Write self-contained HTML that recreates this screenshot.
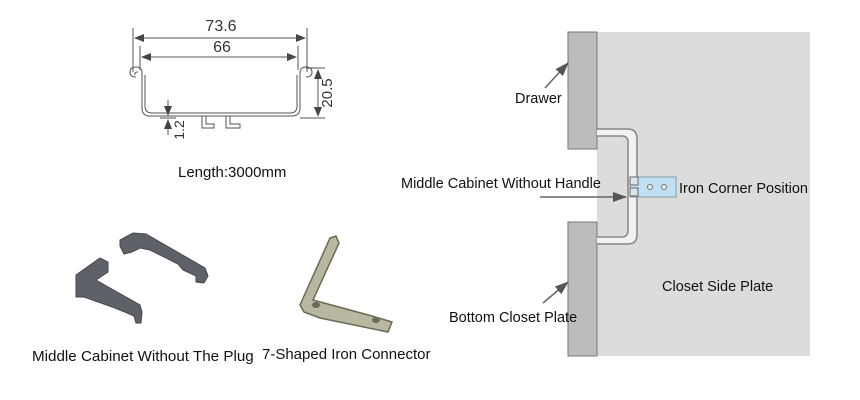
<!DOCTYPE html>
<html><head><style>
html,body{margin:0;padding:0;background:#fff;}
svg{display:block;font-family:"Liberation Sans",Arial,sans-serif;}
</style></head><body>
<svg width="860" height="400" viewBox="0 0 860 400" xmlns="http://www.w3.org/2000/svg">
<defs>
<marker id="a" markerWidth="10" markerHeight="8" refX="9" refY="4" orient="auto" markerUnits="userSpaceOnUse"><path d="M0,0 L10,4 L0,8 z" fill="#444"/></marker>
<marker id="b" markerWidth="14" markerHeight="10" refX="13" refY="5" orient="auto" markerUnits="userSpaceOnUse"><path d="M0,0 L14,5 L0,10 z" fill="#555"/></marker>
</defs>
<g stroke="#555" fill="none" stroke-width="1">
<line x1="133" y1="28" x2="133" y2="72"/><line x1="307" y1="28" x2="307" y2="72"/>
<line x1="140" y1="46" x2="140" y2="70"/><line x1="298" y1="46" x2="298" y2="70"/>
<line x1="135" y1="38" x2="305" y2="38" marker-end="url(#a)"/><line x1="305" y1="38" x2="135" y2="38" marker-end="url(#a)"/>
<line x1="142" y1="57" x2="296" y2="57" marker-end="url(#a)"/><line x1="296" y1="57" x2="142" y2="57" marker-end="url(#a)"/>
<line x1="306" y1="68" x2="325" y2="68"/><line x1="300" y1="118" x2="325" y2="118"/>
<line x1="318" y1="70" x2="318" y2="116" marker-end="url(#a)"/><line x1="318" y1="116" x2="318" y2="70" marker-end="url(#a)"/>
<line x1="168" y1="100" x2="168" y2="115" marker-end="url(#a)"/><line x1="168" y1="135" x2="168" y2="120" marker-end="url(#a)"/>
<line x1="160" y1="118" x2="176" y2="118"/>
<path d="M136,77 Q130,77 130,72 Q130,67 136,67 Q142,67 142,73 L142,108 Q142,116 150,116 L292,116 Q300,116 300,108 L300,73 Q300,67 306,67 Q312,67 312,72 Q312,77 306,77"/>
<path d="M138,72 Q134,72 135,75 M145,75 L145,106 Q145,113 152,113 L290,113 Q297,113 297,106 L297,75"/>
<path d="M202,116 L202,128 L214,128 L214,124 L206,124 L206,116 M226,116 L226,128 L240,128 L240,124 L230,124 L230,116"/>
</g>
<g fill="#333" font-size="16">
<text x="221" y="31" text-anchor="middle">73.6</text>
<text x="222" y="52" text-anchor="middle">66</text>
<text transform="translate(332,93) rotate(-90)" text-anchor="middle" font-size="15">20.5</text>
<text transform="translate(184,130) rotate(-90)" text-anchor="middle" font-size="14">1.2</text>
</g>
<text x="178" y="177" font-size="15" fill="#111">Length:3000mm</text>
<g fill="#5f6168" stroke="#45474c" stroke-width="1">
<path d="M120,246 L120,240 L133,233 L146,234 L205,268 L208,276 L204,283 L196,282 L196,276 L183,270 L178,264 L150,250 L140,248 L132,252 L124,254 Z"/>
<path d="M76,290 L76,275 L100,258 L108,262 L108,272 L96,280 L140,305 L142,312 L141,323 L136,323 L134,316 L115,308 L84,297 L76,297 Z"/>
</g>
<path d="M300,305 L330,238 L336,236 L339,243 L313,300 L372,316 L392,322 L388,332 L320,318 L304,312 Z" fill="#b9b7a0" stroke="#6b6a55" stroke-width="1.5"/>
<ellipse cx="316" cy="305" rx="4" ry="3" fill="#6b6a55"/><ellipse cx="376" cy="320" rx="4" ry="3" fill="#6b6a55"/>
<text x="32" y="361" font-size="15.2" fill="#111">Middle Cabinet Without The Plug</text>
<text x="262" y="359" font-size="15" fill="#111">7-Shaped Iron Connector</text>
<rect x="597" y="32" width="213" height="324" fill="#dcdcdc"/>
<rect x="568" y="32" width="29" height="117" fill="#bcbcbc" stroke="#777"/>
<rect x="568" y="222" width="29" height="134" fill="#bcbcbc" stroke="#777"/>
<path d="M597,130 L628,130 Q636,130 636,139 L636,235 Q636,243 628,243 L597,243 L597,237 L622,237 Q629,237 629,230 L629,142 Q629,136 622,136 L597,136 Z" fill="#f2f2f2"/>
<g fill="none" stroke="#888" stroke-width="1.5">
<path d="M597,129 L628,129 Q637,129 637,139 L637,235 Q637,244 628,244 L597,244"/>
<path d="M597,136 L622,136 Q628,136 628,142 L628,230 Q628,237 622,237 L597,237"/>
</g>
<rect x="630" y="177" width="46" height="20" fill="#bfe0f5" stroke="#8a9aa5"/>
<rect x="630" y="177" width="8" height="8" fill="#d8e6ee" stroke="#666"/><rect x="630" y="188" width="8" height="8" fill="#d8e6ee" stroke="#666"/>
<circle cx="650" cy="187" r="2.5" fill="#eee" stroke="#777"/><circle cx="664" cy="187" r="2.5" fill="#eee" stroke="#777"/>
<g stroke="#666" stroke-width="1.5">
<line x1="545" y1="88" x2="568" y2="63" marker-end="url(#b)"/>
<line x1="540" y1="197" x2="626" y2="197" marker-end="url(#b)"/>
<line x1="543" y1="303" x2="568" y2="282" marker-end="url(#b)"/>
</g>
<g font-size="14.5" fill="#111">
<text x="515" y="103">Drawer</text>
<text x="401" y="188">Middle Cabinet Without Handle</text>
<text x="679" y="193">Iron Corner Position</text>
<text x="662" y="291">Closet Side Plate</text>
<text x="449" y="322">Bottom Closet Plate</text>
</g>
</svg>
</body></html>
